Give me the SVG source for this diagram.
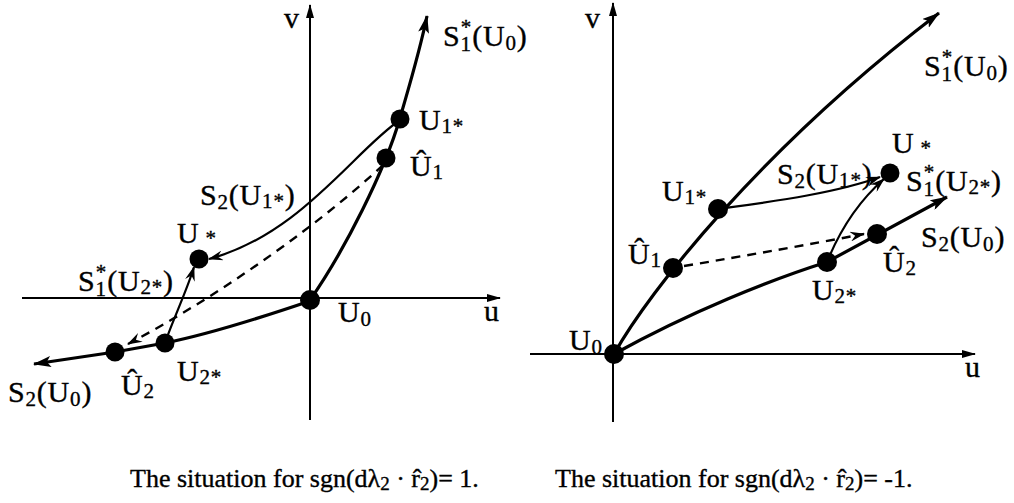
<svg xmlns="http://www.w3.org/2000/svg" width="1014" height="503" viewBox="0 0 1014 503">
<style>
  text { font-family: "Liberation Serif", "Times New Roman", serif; fill: #000; stroke: #000; stroke-width: 0.35; }
  .lbl { font-size: 30px; letter-spacing: 0.8px; }
  .cap { font-size: 26px; }
  .sub { font-size: 21px; }
  .axis { stroke: #000; stroke-width: 2; fill: none; marker-end: url(#ax); }
  .thick { stroke: #000; stroke-width: 3.2; fill: none; }
  .thin { stroke: #000; stroke-width: 2.2; fill: none; }
  .dash { stroke: #000; stroke-width: 2.4; fill: none; stroke-dasharray: 9 7; }
  .dot { fill: #000; }
</style>
<defs>
  <marker id="ax" viewBox="0 0 14 8" markerWidth="14" markerHeight="8" refX="13" refY="4" orient="auto" markerUnits="userSpaceOnUse">
    <path d="M0,0 L14,4 L0,8 z" fill="#000"/>
  </marker>
  <marker id="big" viewBox="0 0 18 11" markerWidth="18" markerHeight="11" refX="17" refY="5.5" orient="auto" markerUnits="userSpaceOnUse">
    <path d="M0,0 L18,5.5 L0,11 L4,5.5 z" fill="#000"/>
  </marker>
  <marker id="sm" viewBox="0 0 15 10" markerWidth="15" markerHeight="10" refX="14" refY="5" orient="auto" markerUnits="userSpaceOnUse">
    <path d="M0,0 L15,5 L0,10 L5,5 z" fill="#000"/>
  </marker>
</defs>

<!-- LEFT DIAGRAM -->
<g id="left-axes">
  <path class="axis" d="M310,420 L310,5"/>
  <path class="axis" d="M22,298 L500,298"/>
  <text class="lbl" x="284" y="28">v</text>
  <text class="lbl" x="484" y="321">u</text>
</g>
<g id="left-connectors">
  <path class="thick" d="M310,300 C345,250 385,170 400,118 S420,50 427,16" marker-end="url(#big)"/>
  <path class="thick" d="M310,301 C260,318 210,334 165,343 L115,352 L34,364" marker-end="url(#big)"/>
  <path class="thin" d="M400,120 C355,150 300,235 209,259" marker-end="url(#sm)"/>
  <path class="thin" d="M166,340 C175,315 187,290 194,267" marker-end="url(#sm)"/>
  <path class="dash" d="M383,165 C330,215 230,290 128,344" marker-end="url(#sm)"/>
</g>
<g id="left-U0">
  <circle class="dot" cx="310" cy="300" r="10"/>
  <text class="lbl" x="338" y="322">U<tspan class="sub" dy="4">0</tspan></text>
</g>
<g id="left-S1U0">
  <text class="lbl" x="443" y="46">S<tspan class="sub" dy="5">1</tspan><tspan class="sub" dx="-11" dy="-17">*</tspan><tspan dy="12">(U</tspan><tspan class="sub" dy="4">0</tspan><tspan dy="-4">)</tspan></text>
</g>
<g id="left-U1star">
  <circle class="dot" cx="400" cy="119" r="9.5"/>
  <text class="lbl" x="419" y="130">U<tspan class="sub" dy="3">1*</tspan></text>
</g>
<g id="left-U1hat">
  <circle class="dot" cx="386" cy="158" r="9.5"/>
  <text class="lbl" x="410" y="176">Û<tspan class="sub" dy="3">1</tspan></text>
</g>
<g id="left-S2U1">
  <text class="lbl" x="200" y="205">S<tspan class="sub" dy="4">2</tspan><tspan dy="-4">(U</tspan><tspan class="sub" dy="3">1*</tspan><tspan dy="-3">)</tspan></text>
</g>
<g id="left-Ustar">
  <circle class="dot" cx="199" cy="259" r="9.5"/>
  <text class="lbl" x="177" y="243">U<tspan class="sub" dy="2"> *</tspan></text>
</g>
<g id="left-S1U2">
  <text class="lbl" x="78" y="291">S<tspan class="sub" dy="5">1</tspan><tspan class="sub" dx="-11" dy="-17">*</tspan><tspan dy="12">(U</tspan><tspan class="sub" dy="3">2*</tspan><tspan dy="-3">)</tspan></text>
</g>
<g id="left-U2star">
  <circle class="dot" cx="165" cy="343" r="9.5"/>
  <text class="lbl" x="177" y="381">U<tspan class="sub" dy="3">2*</tspan></text>
</g>
<g id="left-U2hat">
  <circle class="dot" cx="115" cy="352" r="9.5"/>
  <text class="lbl" x="121" y="395">Û<tspan class="sub" dy="3">2</tspan></text>
</g>
<g id="left-S2U0">
  <text class="lbl" x="8" y="402">S<tspan class="sub" dy="4">2</tspan><tspan dy="-4">(U</tspan><tspan class="sub" dy="4">0</tspan><tspan dy="-4">)</tspan></text>
</g>

<!-- RIGHT DIAGRAM -->
<g id="right-axes">
  <path class="axis" d="M613,422 L613,3"/>
  <path class="axis" d="M530,354 L975,354"/>
  <text class="lbl" x="585" y="28">v</text>
  <text class="lbl" x="965" y="377">u</text>
</g>
<g id="right-connectors">
  <path class="thick" d="M614,354 C650,290 760,150 939,13" marker-end="url(#big)"/>
  <path class="thick" d="M614,354 C690,312 770,280 827,262 L947,197" marker-end="url(#big)"/>
  <path class="thin" d="M718,209 C760,203 830,195 880,177" marker-end="url(#sm)"/>
  <path class="thin" d="M827,262 C840,230 860,200 884,179" marker-end="url(#sm)"/>
  <path class="dash" d="M684,266 Q780,250 864,234" marker-end="url(#sm)"/>
</g>
<g id="right-U0">
  <circle class="dot" cx="614" cy="354" r="10"/>
  <text class="lbl" x="569" y="350">U<tspan class="sub" dy="4">0</tspan></text>
</g>
<g id="right-S1U0">
  <text class="lbl" x="924" y="76">S<tspan class="sub" dy="5">1</tspan><tspan class="sub" dx="-11" dy="-17">*</tspan><tspan dy="12">(U</tspan><tspan class="sub" dy="4">0</tspan><tspan dy="-4">)</tspan></text>
</g>
<g id="right-U1hat">
  <circle class="dot" cx="673" cy="268" r="10"/>
  <text class="lbl" x="628" y="264">Û<tspan class="sub" dy="3">1</tspan></text>
</g>
<g id="right-U1star">
  <circle class="dot" cx="718" cy="209" r="10"/>
  <text class="lbl" x="662" y="201">U<tspan class="sub" dy="3">1*</tspan></text>
</g>
<g id="right-S2U1">
  <text class="lbl" x="777" y="184">S<tspan class="sub" dy="4">2</tspan><tspan dy="-4">(U</tspan><tspan class="sub" dy="3">1*</tspan><tspan dy="-3">)</tspan></text>
</g>
<g id="right-Ustar">
  <circle class="dot" cx="890" cy="173" r="9.5"/>
  <text class="lbl" x="892" y="153">U<tspan class="sub" dy="2"> *</tspan></text>
</g>
<g id="right-S1U2">
  <text class="lbl" x="906" y="191">S<tspan class="sub" dy="5">1</tspan><tspan class="sub" dx="-11" dy="-17">*</tspan><tspan dy="12">(U</tspan><tspan class="sub" dy="3">2*</tspan><tspan dy="-3">)</tspan></text>
</g>
<g id="right-U2star">
  <circle class="dot" cx="827" cy="262" r="10"/>
  <text class="lbl" x="812" y="300">U<tspan class="sub" dy="3">2*</tspan></text>
</g>
<g id="right-U2hat">
  <circle class="dot" cx="877" cy="234" r="10"/>
  <text class="lbl" x="883" y="272">Û<tspan class="sub" dy="3">2</tspan></text>
</g>
<g id="right-S2U0">
  <text class="lbl" x="921" y="247">S<tspan class="sub" dy="4">2</tspan><tspan dy="-4">(U</tspan><tspan class="sub" dy="4">0</tspan><tspan dy="-4">)</tspan></text>
</g>

<!-- CAPTIONS -->
<g id="captions">
  <text class="cap" x="130" y="487">The situation for sgn(dλ<tspan dy="3" font-size="19">2</tspan><tspan dy="-3"> · r̂</tspan><tspan dy="3" font-size="19">2</tspan><tspan dy="-3">)= 1.</tspan></text>
  <text class="cap" x="555" y="487">The situation for sgn(dλ<tspan dy="3" font-size="19">2</tspan><tspan dy="-3"> · r̂</tspan><tspan dy="3" font-size="19">2</tspan><tspan dy="-3">)= -1.</tspan></text>
</g>
</svg>
